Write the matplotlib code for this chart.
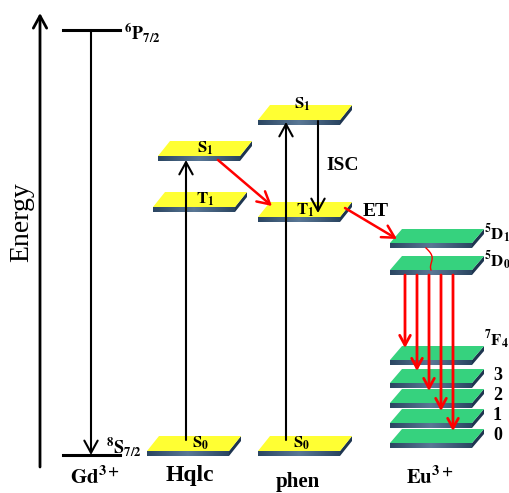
import matplotlib
matplotlib.use("Agg")
import matplotlib.pyplot as plt
from matplotlib.patches import Polygon, FancyArrowPatch
import numpy as np

plt.rcParams['mathtext.fontset'] = 'stix'
plt.rcParams['font.family'] = ['Liberation Serif', 'DejaVu Serif']

# ---- data: level positions (pixel-like energy coordinate, smaller = higher energy)
gd_levels = [30, 455]                 # 6P7/2, 8S7/2
gd_labels = [r'$\mathbf{{}^{6}P_{7/2}}$', r'$\mathbf{{}^{8}S_{7/2}}$']
hqlc_levels = [451, 207, 156]         # S0, T1, S1
hqlc_labels = [r'$\mathbf{S_0}$', r'$\mathbf{T_1}$', r'$\mathbf{S_1}$']
phen_levels = [451, 217, 120]         # S0, T1, S1
phen_labels = [r'$\mathbf{S_0}$', r'$\mathbf{T_1}$', r'$\mathbf{S_1}$']
eu_levels = [243, 270, 360, 383, 403, 423, 443]   # 5D1, 5D0, 7F4, 7F3, 7F2, 7F1, 7F0
eu_labels = [r'$\mathbf{{}^{5}D_{1}}$', r'$\mathbf{{}^{5}D_{0}}$', r'$\mathbf{{}^{7}F_{4}}$',
             '3', '2', '1', '0']
species = [r'$\mathbf{Gd^{3+}}$', 'Hqlc', 'phen', r'$\mathbf{Eu^{3+}}$']

W, H = 510, 493
fig = plt.figure(figsize=(W/100, H/100), dpi=100)
ax = fig.add_axes([0, 0, 1, 1])
ax.set_xlim(0, W)
ax.set_ylim(H, 0)
ax.axis('off')

YELLOW = '#FFFF33'
GREEN = '#36D27E'
SIDE = '#1E3550'

def plate(xl, yf, w, color, skew=12, depth=15, thick=5):
    top = [(xl, yf), (xl + w, yf), (xl + w + skew, yf - depth), (xl + skew, yf - depth)]
    side = [(xl + w, yf), (xl + w + skew, yf - depth), (xl + w + skew, yf - depth + thick), (xl + w, yf + thick)]
    grad = np.linspace(0, 1, 64).reshape(1, -1)
    cmap = matplotlib.colors.LinearSegmentedColormap.from_list('f', ['#2B4662', '#5A7896', '#2B4662'])
    ax.imshow(grad, extent=(xl, xl + w, yf + thick, yf), cmap=cmap, aspect='auto', zorder=2,
              interpolation='bilinear')
    ax.add_patch(Polygon(side, closed=True, fc=SIDE, ec='none', zorder=2))
    ax.add_patch(Polygon(top, closed=True, fc=color, ec='none', zorder=2))

def arrow(x0, y0, x1, y1, color='black', lw=1.6, head=10):
    ax.add_patch(FancyArrowPatch((x0, y0), (x1, y1), arrowstyle='->,head_length=0.55,head_width=0.3',
                                 mutation_scale=head * 1.6, color=color, lw=lw, zorder=4,
                                 shrinkA=0, shrinkB=0))

# Energy axis
arrow(40, 467, 40, 13, lw=2.0)
ax.text(22, 222, 'Energy', rotation=90, fontsize=20, ha='center', va='center')

# Gd levels
for y in gd_levels:
    ax.plot([63, 120], [y, y], color='black', lw=2.2, zorder=3)
ax.text(124, 33, gd_labels[0], fontsize=13, ha='left', va='center')
ax.text(106, 446, gd_labels[1], fontsize=13, ha='left', va='center')
arrow(91, gd_levels[0], 91, gd_levels[1], lw=1.5)

# Hqlc plates
hq_x = [147, 153, 158]
for x, y in zip(hq_x, hqlc_levels):
    plate(x, y, 82, YELLOW)
ax.text(201, 443, hqlc_labels[0], fontsize=12, ha='center', va='center', zorder=5)
ax.text(205, 199, hqlc_labels[1], fontsize=12, ha='center', va='center', zorder=5)
ax.text(205, 148, hqlc_labels[2], fontsize=12, ha='center', va='center', zorder=5)
arrow(186, 440, 186, hqlc_levels[2] + 4, lw=1.5)

# phen plates
for y in phen_levels:
    plate(258, y, 82, YELLOW)
ax.text(302, 443, phen_labels[0], fontsize=12, ha='center', va='center', zorder=5)
ax.text(305, 210, phen_labels[1], fontsize=12, ha='center', va='center', zorder=5)
ax.text(302, 104, phen_labels[2], fontsize=12, ha='center', va='center', zorder=5)
arrow(286, 440, 286, phen_levels[2] + 2, lw=1.5)
arrow(318, phen_levels[2] + 1, 318, 213, lw=1.5)
ax.text(326, 166, 'ISC', fontsize=14, fontweight='bold', ha='left', va='center')

# Energy transfer arrows
arrow(218, 160, 272, 206, color='red', lw=1.8, head=10)
arrow(345, 208, 397, 239, color='red', lw=1.8, head=10)
ax.text(363, 212, 'ET', fontsize=14, fontweight='bold', ha='left', va='center')

# Eu plates
for y in eu_levels:
    plate(390, y, 82, GREEN, depth=14, thick=5)
ax.text(484, 234, eu_labels[0], fontsize=12, ha='left', va='center')
ax.text(484, 261, eu_labels[1], fontsize=12, ha='left', va='center')
ax.text(484, 340, eu_labels[2], fontsize=12, ha='left', va='center')
for y, lab in zip(eu_levels[3:], eu_labels[3:]):
    ax.text(493, y - 8, lab, fontsize=13, fontweight='bold', ha='left', va='center')

# non-radiative wavy 5D1 -> 5D0
t = np.linspace(0, 1, 30)
ax.plot(426 + 8 * t + 3 * np.sin(t * np.pi * 1.5), 248 + 22 * t, color='red', lw=1.0, zorder=3)

# radiative transitions 5D0 -> 7FJ
xs = [405, 417, 429, 441, 453]
for x, y in zip(xs, eu_levels[2:]):
    arrow(x, 275, x, y - 12, color='red', lw=2.0, head=8)

# species labels
ax.text(95, 478, species[0], fontsize=15, ha='center', va='center')
ax.text(190, 476, species[1], fontsize=17, fontweight='bold', ha='center', va='center')
ax.text(298, 482, species[2], fontsize=15, fontweight='bold', ha='center', va='center')
ax.text(430, 478, species[3], fontsize=15, ha='center', va='center')

fig.savefig('out.png', dpi=100)
